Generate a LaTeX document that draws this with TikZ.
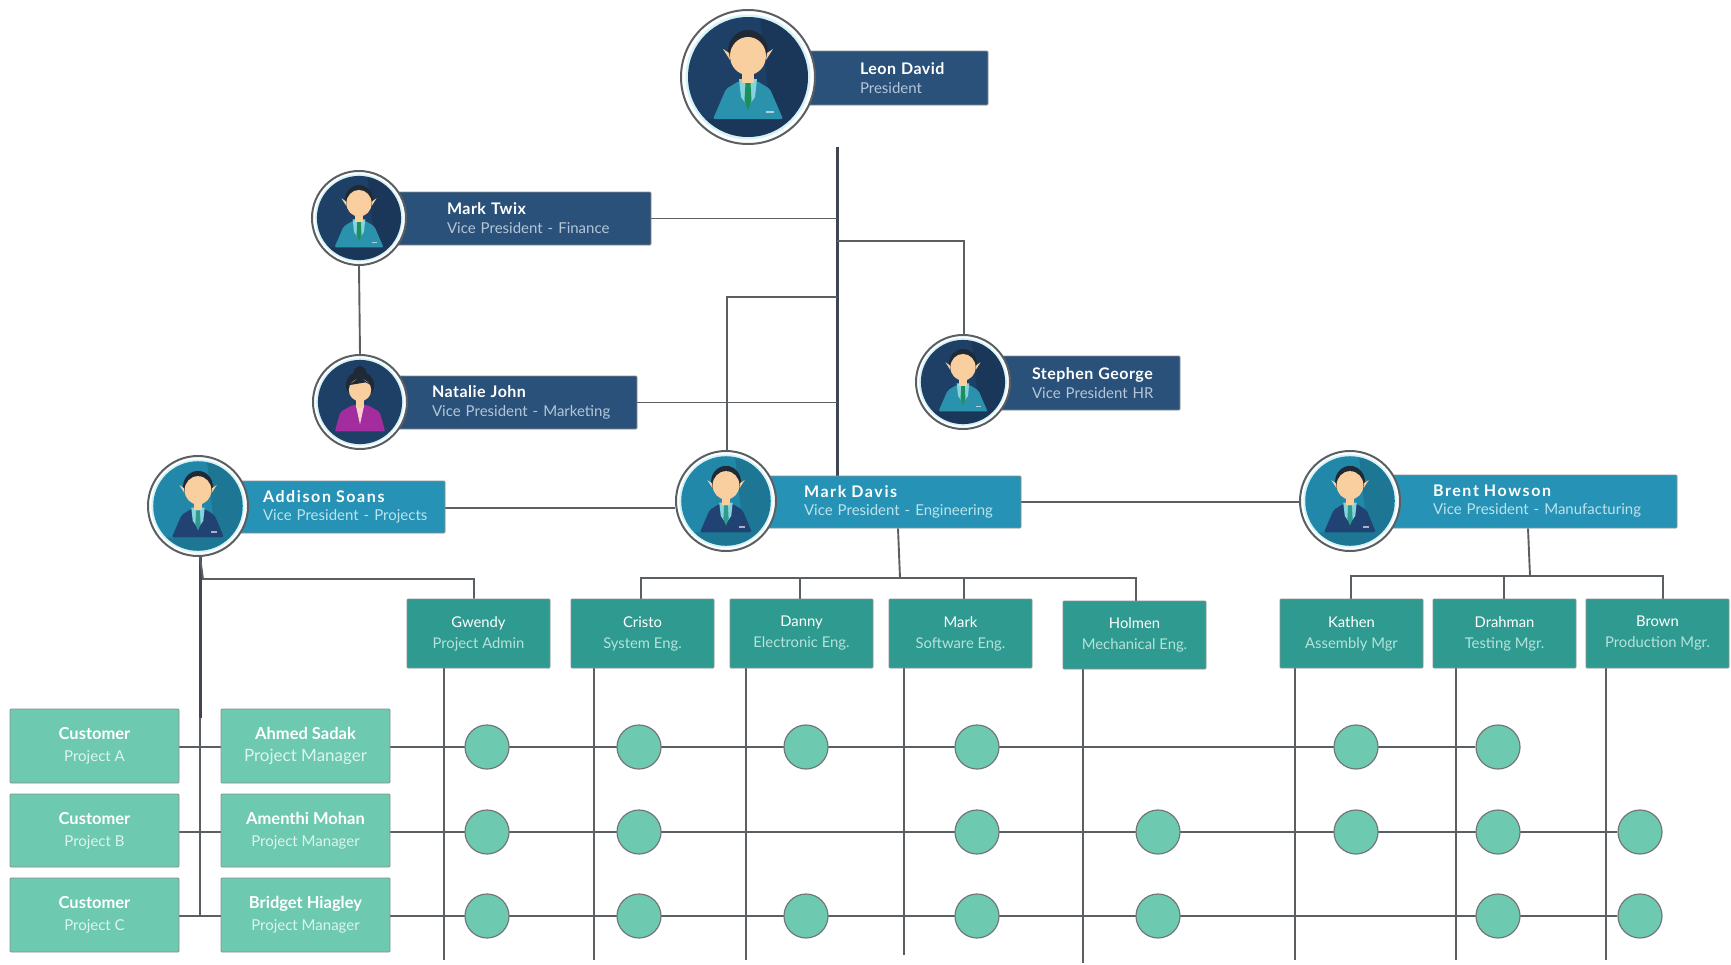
\documentclass[tikz,border=0pt]{standalone}
\usepackage{fontspec}
\setmainfont{Lato}
\usetikzlibrary{backgrounds,calc}
\definecolor{navybg}{HTML}{1E3F66}
\definecolor{navybox}{HTML}{2A5179}
\definecolor{bluebg}{HTML}{2288A9}
\definecolor{bluebox}{HTML}{2592B6}
\definecolor{tealbox}{HTML}{2F9A90}
\definecolor{mintbox}{HTML}{6DC9AF}
\definecolor{linegray}{HTML}{5A5F63}
\definecolor{spine}{HTML}{3F4650}
\definecolor{skin}{HTML}{F9CFA0}
\definecolor{hair}{HTML}{1F2A36}
\definecolor{suitteal}{HTML}{2B92AE}
\definecolor{suitnavy}{HTML}{214374}
\definecolor{suitpurple}{HTML}{A32C9E}
\definecolor{shirtblue}{HTML}{86D3DC}
\definecolor{tiegreen}{HTML}{1C8F5C}
\definecolor{subnavy}{HTML}{B4C6D8}
\definecolor{subblue}{HTML}{BCE3EC}
\definecolor{subteal}{HTML}{B5E3DC}
\definecolor{submint}{HTML}{DDF5EE}
\definecolor{ringtint}{HTML}{D5F3F7}
\tikzset{
  conn/.style={draw=linegray,line width=1.9pt},
  spineline/.style={draw=spine,line width=3pt},
  boxbase/.style={draw=linegray!70,line width=.9pt,rounded corners=1pt,inner sep=0pt,text=white},
  navyperson/.style={boxbase,fill=navybox,font=\fontsize{15}{19}\selectfont},
  blueperson/.style={boxbase,fill=bluebox,font=\fontsize{15}{18}\selectfont},
  tealrole/.style={boxbase,fill=tealbox,align=center,font=\fontsize{14.8}{21}\selectfont},
  mintrole/.style={boxbase,fill=mintbox,align=center,font=\fontsize{16.5}{22}\selectfont},
  dot/.style={circle,draw=linegray!85,line width=1.2pt,fill=mintbox,minimum size=44pt,inner sep=0pt},
  ring/.style={circle,draw=linegray,line width=2pt,fill=white,inner sep=0pt}
}
% filled box from its corners: style, name, x1,y1,x2,y2, text
\newcommand{\cornerbox}[7]{%
  \node[#1,minimum width={(#5-#3)*1pt},minimum height={(#6-#4)*1pt}] (#2) at ({(#3+#5)/2},{(#4+#6)/2}) {#7};}
% person box with left aligned two line text
\newcommand{\personbox}[9]{%
  \node[#1,minimum width={(#5-#3)*1pt},minimum height={(#6-#4)*1pt},text width={(#5-#3)*1pt},align=left] (#2) at ({(#3+#5)/2},{(#4+#6)/2})
   {\hspace*{#7pt}#8\\\hspace*{#7pt}#9};}
\newcommand{\nametxt}[1]{{\fontsize{16}{19}\selectfont\addfontfeature{LetterSpace=3}\bfseries #1}}
\newcommand{\wideName}[1]{{\fontsize{16}{19}\selectfont\addfontfeature{LetterSpace=10}\bfseries #1}}
\newcommand{\subline}[2]{{\color{#1}#2}}
% avatar: name, x, y, radius, background, suit, shirt, tie
\newcommand{\avatar}[8]{%
  \node[ring,minimum size={2*#4*1pt}] (#1) at (#2,#3) {};
  \begin{scope}[shift={(#2,#3)},scale=#4/67]
    \fill[ringtint] (0,0) circle[radius=62.5];
    \fill[#5] (0,0) circle[radius=60];
    \begin{scope}
      \clip (0,0) circle[radius=60];
      \fill[black,opacity=.12] (12,-60) -- (60,-60) -- (60,60) -- (-60,60) -- (-60,42) -- (36,42) -- (20,12) -- cycle;
    \end{scope}
    \fill[#6,rounded corners=2pt] (-35,42) -- (-22,12) -- (-9,4) -- (9,4) -- (22,12) -- (35,42) -- cycle;
    \fill[#7] (-9,2) -- (9,2) -- (7,20) -- (0,30) -- (-7,20) -- cycle;
    \fill[#8] (-2.5,6) -- (2.5,6) -- (3.5,24) -- (0,33) -- (-3.5,24) -- cycle;
    \fill[white,opacity=.6] (18,34) rectangle (26,36);
    \fill[hair] (0,-26) ellipse[x radius=20,y radius=21];
    \fill[skin] (-19,-24) -- (-25,-28) -- (-18,-17) -- cycle;
    \fill[skin] (19,-24) -- (25,-28) -- (18,-17) -- cycle;
    \fill[skin] (-6,-6) rectangle (6,6);
    \fill[skin] (0,-21) ellipse[x radius=18,y radius=19];
  \end{scope}}
\newcommand{\avatarwoman}[5]{%
  \node[ring,minimum size={2*#4*1pt}] (#1) at (#2,#3) {};
  \begin{scope}[shift={(#2,#3)},scale=#4/67]
    \fill[ringtint] (0,0) circle[radius=62.5];
    \fill[#5] (0,0) circle[radius=60];
    \fill[suitpurple,rounded corners=2pt] (-36,42) -- (-28,14) -- (-10,4) -- (10,4) -- (28,14) -- (36,42) -- cycle;
    \fill[pink!70!white] (-6,4) -- (6,4) -- (0,32) -- cycle;
    \fill[hair] (0,-42) circle[radius=9];
    \fill[hair] (0,-24) ellipse[x radius=20,y radius=20];
    \fill[skin] (-5,-8) rectangle (5,8);
    \fill[skin] (0,-17) ellipse[x radius=16,y radius=16];
    \fill[hair] (-16,-24) -- (0,-36) -- (16,-24) -- (8,-28) -- cycle;
  \end{scope}}
\begin{document}
\begin{tikzpicture}[x=1pt,y=-1pt]
\useasboundingbox (0,0) rectangle (1731,964);
% person boxes
\personbox{navyperson}{leonbox}{790}{51}{988}{105}{70}{\nametxt{Leon David}}{\subline{subnavy}{President}}
\personbox{navyperson}{twixbox}{390}{192}{651}{245}{57}{\nametxt{Mark Twix}}{\subline{subnavy}{Vice President - Finance}}
\personbox{navyperson}{nataliebox}{390}{376}{637}{429}{42}{\nametxt{Natalie John}}{\subline{subnavy}{Vice President - Marketing}}
\personbox{navyperson}{stephenbox}{990}{356}{1180}{410}{42}{\nametxt{Stephen George}}{\subline{subnavy}{Vice President HR}}
\personbox{blueperson}{addisonbox}{225}{481}{445}{533}{38}{\wideName{Addison Soans}}{\subline{subblue}{Vice President - Projects}}
\personbox{blueperson}{davisbox}{755}{476}{1021}{528}{49}{\wideName{Mark Davis}}{\subline{subblue}{Vice President - Engineering}}
\personbox{blueperson}{brentbox}{1380}{475}{1677}{528}{53}{\wideName{Brent Howson}}{\subline{subblue}{Vice President - Manufacturing}}
% avatars
\avatar{leon}{748}{77}{67}{navybg}{suitteal}{shirtblue}{tiegreen}
\avatar{twix}{359}{218}{47}{navybg}{suitteal}{shirtblue}{tiegreen}
\avatarwoman{natalie}{360}{402}{47}{navybg}
\avatar{stephen}{963}{382}{47}{navybg}{suitteal}{shirtblue}{tiegreen}
\avatar{addison}{198}{506}{50}{bluebg}{suitnavy}{shirtblue}{tealbox}
\avatar{davis}{726}{501}{50}{bluebg}{suitnavy}{shirtblue}{tealbox}
\avatar{brent}{1350}{501}{50}{bluebg}{suitnavy}{shirtblue}{tealbox}
% role boxes
\newcommand{\roletxt}[3]{#2\\\color{#1}#3}
\cornerbox{tealrole}{gwendy}{407}{599}{550}{668}{\roletxt{subteal}{Gwendy}{Project Admin}}
\cornerbox{tealrole}{cristo}{571}{599}{714}{668}{\roletxt{subteal}{Cristo}{System Eng.}}
\cornerbox{tealrole}{danny}{730}{599}{873}{668}{\roletxt{subteal}{Danny}{Electronic Eng.}}
\cornerbox{tealrole}{marks}{889}{599}{1032}{668}{\roletxt{subteal}{Mark}{Software Eng.}}
\cornerbox{tealrole}{holmen}{1063}{601}{1206}{669}{\roletxt{subteal}{Holmen}{Mechanical Eng.}}
\cornerbox{tealrole}{kathen}{1280}{599}{1423}{668}{\roletxt{subteal}{Kathen}{Assembly Mgr}}
\cornerbox{tealrole}{drahman}{1433}{599}{1576}{668}{\roletxt{subteal}{Drahman}{Testing Mgr.}}
\cornerbox{tealrole}{brown}{1586}{599}{1729}{668}{\roletxt{subteal}{Brown}{Production Mgr.}}
\newcommand{\minttxt}[3][15]{{\bfseries #2}\\\fontsize{#1}{22}\selectfont\color{submint}#3}
\cornerbox{mintrole}{custA}{10}{709}{179}{783}{\minttxt{Customer}{Project A}}
\cornerbox{mintrole}{custB}{10}{794}{179}{867}{\minttxt{Customer}{Project B}}
\cornerbox{mintrole}{custC}{10}{878}{179}{952}{\minttxt{Customer}{Project C}}
\cornerbox{mintrole}{pmA}{221}{709}{390}{783}{\minttxt[17]{Ahmed Sadak}{Project Manager}}
\cornerbox{mintrole}{pmB}{221}{794}{390}{867}{\minttxt{Amenthi Mohan}{Project Manager}}
\cornerbox{mintrole}{pmC}{221}{878}{390}{952}{\minttxt{Bridget Hiagley}{Project Manager}}
% dots
\foreach \n/\x/\y in {a1/487/747,a2/639/747,a3/806/747,a4/977/747,a5/1356/747,a6/1498/747,
  b1/487/832,b2/639/832,b3/977/832,b4/1158/832,b5/1356/832,b6/1498/832,b7/1640/832,
  c1/487/916,c2/639/916,c3/806/916,c4/977/916,c5/1158/916,c6/1498/916,c7/1640/916}
  {\node[dot] (\n) at (\x,\y) {};}
% free ends and junctions
\coordinate (trunktop) at (837,147);
\coordinate (trunkbot) at (837,476);
\coordinate (jstephen) at (837,241);
\coordinate (stephentop) at (964,241);
\coordinate (jdavis) at (837,297);
\coordinate (davistop) at (727,297);
\coordinate (busDa) at (641,578);
\coordinate (busDb) at (800,578);
\coordinate (busDc) at (900,578);
\coordinate (busDd) at (964,578);
\coordinate (busDe) at (1136,578);
\coordinate (busBa) at (1351,576);
\coordinate (busBb) at (1504,576);
\coordinate (busBc) at (1530,576);
\coordinate (busBd) at (1663,576);
\coordinate (spinemid) at (200,718);
\coordinate (spineend) at (200,916);
\coordinate (kink) at (203,579);
\coordinate (busGw) at (474,579);
\coordinate (leftlink) at (445,508);
\coordinate (brentlink) at (898,0);
\coordinate (manulink) at (1528,0);
\foreach \n/\x/\y in {v1/444/960,v2/594/960,v3/746/960,v4/904/955,v5/1083/963,v6/1295/960,v7/1456/960,v8/1606/960}
  {\coordinate (\n) at (\x,\y);}
\begin{scope}[on background layer]
  % upper tree
  \draw[spineline] (trunktop) -- (trunkbot);
  \draw[conn] (twixbox.east) -- (trunktop |- twixbox.east);
  \draw[conn] (nataliebox.east) -- (trunktop |- nataliebox.east);
  \draw[conn] (jstephen) -- (stephentop) -- (stephen.north -| stephentop);
  \draw[conn] (jdavis) -- (davistop) -- (davis.north -| davistop);
  \draw[conn] (twix.south) -- (natalie.north);
  \draw[conn] (addisonbox.east |- leftlink) -- (davis.west |- leftlink);
  \draw[conn] (davisbox.east) -- (brent.west |- davisbox.east);
  % engineering bus
  \draw[conn] (davisbox.south -| brentlink) -- (busDc);
  \draw[conn] (cristo.north -| busDa) -- (busDa) -- (busDe) -- (holmen.north -| busDe);
  \draw[conn] (busDb) -- (danny.north -| busDb);
  \draw[conn] (busDd) -- (marks.north -| busDd);
  % manufacturing bus
  \draw[conn] (brentbox.south -| manulink) -- (busBc);
  \draw[conn] (kathen.north -| busBa) -- (busBa) -- (busBd) -- (brown.north -| busBd);
  \draw[conn] (busBb) -- (drahman.north -| busBb);
  % projects
  \draw[spineline] (addison.south -| spinemid) -- (spinemid);
  \draw[conn] (spinemid) -- (spineend);
  \draw[conn] (addison.south -| spinemid) -- (kink) -- (busGw) -- (gwendy.north -| busGw);
  % customer to manager
  \draw[conn] (custA.east |- a1) -- (pmA.west |- a1);
  \draw[conn] (custB.east |- b1) -- (pmB.west |- b1);
  \draw[conn] (custC.east |- c1) -- (pmC.west |- c1);
  % row lines
  \draw[conn] (pmA.east |- a1) -- (a6);
  \draw[conn] (pmB.east |- b1) -- (b7);
  \draw[conn] (pmC.east |- c1) -- (c7);
  % column lines
  \draw[conn] (gwendy.south -| v1) -- (v1);
  \draw[conn] (cristo.south -| v2) -- (v2);
  \draw[conn] (danny.south -| v3) -- (v3);
  \draw[conn] (marks.south -| v4) -- (v4);
  \draw[conn] (holmen.south -| v5) -- (v5);
  \draw[conn] (kathen.south -| v6) -- (v6);
  \draw[conn] (drahman.south -| v7) -- (v7);
  \draw[conn] (brown.south -| v8) -- (v8);
\end{scope}
\end{tikzpicture}
\end{document}
